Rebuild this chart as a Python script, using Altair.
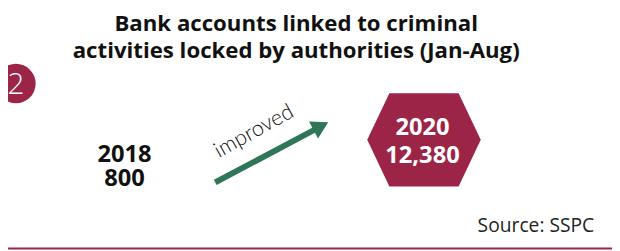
import altair as alt
import pandas as pd

# ---- data ----
title_lines = ["Bank accounts linked to criminal", "activities locked by authorities (Jan-Aug)"]
badge_number = ["2"]
years = ["2018", "2020"]
counts = [800, 12380]
arrow_label = ["improved"]
source_text = ["Source: SSPC"]

# ---- layout (screen pixels) ----
W, H = 612, 243
OFF = 8
MAROON = "#9c2447"
GREEN = "#2f7558"
FONT = "Open Sans"

xs = alt.Scale(domain=[OFF, OFF + W], range=[0, W], nice=False, zero=False)
ys = alt.Scale(domain=[OFF, OFF + H], range=[0, H], nice=False, zero=False)

def X(f="x"):
    return alt.X(f"{f}:Q", scale=xs, axis=None)

def Y(f="y"):
    return alt.Y(f"{f}:Q", scale=ys, axis=None)

# title
title_df = pd.DataFrame({"t": title_lines, "x": [300, 300], "y": [30, 57]})
title = alt.Chart(title_df).mark_text(
    font=FONT, fontSize=22.5, fontWeight="bold", color="#111", align="center", baseline="alphabetic"
).encode(x=X(), y=Y(), text="t:N")

# badge
badge_df = pd.DataFrame({"t": badge_number, "x": [16], "y": [83]})
badge = alt.Chart(badge_df).mark_point(
    shape="circle", size=1600, filled=True, color=MAROON, opacity=1
).encode(x=X(), y=Y())
badge_txt = alt.Chart(badge_df).mark_text(
    font=FONT, fontSize=30, fontWeight=300, color="white", align="center", baseline="middle", dy=2
).encode(x=X(), y=Y(), text="t:N")

# 2018 block
left_df = pd.DataFrame({"t": [years[0], f"{counts[0]:,}"], "x": [126, 126], "y": [162, 187]})
left_txt = alt.Chart(left_df).mark_text(
    font=FONT, fontSize=24, fontWeight="bold", color="#111", align="center", baseline="alphabetic"
).encode(x=X(), y=Y(), text="t:N")

# arrow
shaft_df = pd.DataFrame({"x": [218, 320], "y": [183, 129], "o": [0, 1]})
shaft = alt.Chart(shaft_df).mark_line(color=GREEN, strokeWidth=6, strokeCap="butt").encode(
    x=X(), y=Y(), order="o:Q")
head_df = pd.DataFrame({"x": [325], "y": [126]})
head = alt.Chart(head_df).mark_point(
    shape="triangle-right", size=380, filled=True, color=GREEN, opacity=1, angle=332
).encode(x=X(), y=Y())
lab_df = pd.DataFrame({"t": arrow_label, "x": [257], "y": [131]})
lab = alt.Chart(lab_df).mark_text(
    font="Lato", fontSize=22, fontWeight=300, color="#111", align="center", baseline="middle", angle=331
).encode(x=X(), y=Y(), text="t:N")

# hexagon
hex_path = "M-0.61,-0.82L0.61,-0.82L1,0L0.61,0.82L-0.61,0.82L-1,0Z"
hex_df = pd.DataFrame({"x": [429.5], "y": [140]})
hexagon = alt.Chart(hex_df).mark_point(
    shape=hex_path, size=115 * 115, filled=True, color=MAROON, opacity=1
).encode(x=X(), y=Y())
right_df = pd.DataFrame({"t": [years[1], f"{counts[1]:,}"], "x": [428, 428], "y": [135, 163]})
right_txt = alt.Chart(right_df).mark_text(
    font=FONT, fontSize=24, fontWeight="bold", color="white", align="center", baseline="alphabetic"
).encode(x=X(), y=Y(), text="t:N")

# source
src_df = pd.DataFrame({"t": source_text, "x": [602], "y": [233]})
src = alt.Chart(src_df).mark_text(
    font=FONT, fontSize=19.5, color="#222", align="right", baseline="alphabetic"
).encode(x=X(), y=Y(), text="t:N")

# bottom rule
rule_df = pd.DataFrame({"y": [250]})
rule = alt.Chart(rule_df).mark_rule(color=MAROON, strokeWidth=2).encode(
    y=Y(), x=alt.value(-OFF), x2=alt.value(W))

chart = alt.layer(
    title, badge, badge_txt, left_txt, shaft, head, lab, hexagon, right_txt, src, rule
).properties(
    width=W, height=H, padding=0,
    autosize=alt.AutoSizeParams(type="none"),
).configure_view(stroke=None)

chart.save("out.html", embed_options={"renderer": "svg", "actions": False})
